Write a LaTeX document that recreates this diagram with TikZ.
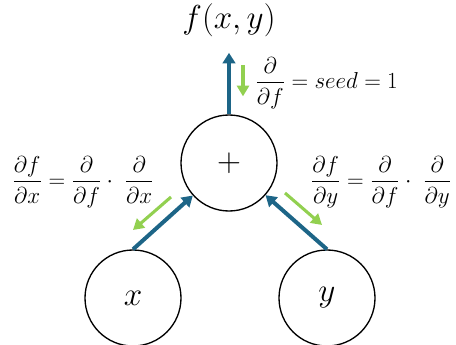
\documentclass[tikz,border=0pt]{standalone}
\usepackage{amsmath, amssymb}
\usepackage{tikz}
\usetikzlibrary{
  arrows.meta,%
  calc,%
  positioning
}
\definecolor{fwdblue}{HTML}{1D6587}
\definecolor{backgreen}{HTML}{92D050}
\tikzset{>=latex}
\tikzset{
  opnode/.style={circle, draw=black, line width=1pt, minimum size=72pt,
    inner sep=0pt, font=\fontsize{24}{28}\selectfont},
  fwdarrow/.style={draw=fwdblue, line width=3pt,
    -{Triangle[width=9.5pt,length=8pt]}},
  backarrow/.style={draw=backgreen, line width=2.3pt,
    -{Triangle[width=9pt,length=8pt]}},
  gradlabel/.style={font=\fontsize{17}{20}\selectfont, inner sep=0pt}
}

\begin{document}
\begin{tikzpicture}[x=0.75pt, y=-0.75pt]
  \useasboundingbox (0,0) rectangle (456,345);
  % graph nodes
  \node[opnode] (plus) at (229,163) {$+$};
  \node[opnode] (x) at (133,298) {$x$};
  \node[opnode] (y) at (327,298) {$y$};
  \node[font=\fontsize{25}{30}\selectfont, inner sep=0pt] (fxy) at (229,20) {$f(x,y)$};
  % forward pass
  \draw[fwdarrow] (plus.north) -- ([yshift=-12pt]fxy.south);
  \draw[fwdarrow] (x.north) -- (plus);
  \draw[fwdarrow] (y.north) -- (plus);
  % backward pass
  \draw[backarrow] ([shift={(14,-49)}]plus.north) -- ++(0,31);
  \draw[backarrow] ([shift={(-58,34)}]plus.center) -- ++(-38,33);
  \draw[backarrow] ([shift={(56,30)}]plus.center) -- ++(37,32);
  % gradients
  \node[gradlabel, anchor=west] (seed) at (255,83)
    {$\dfrac{\partial}{\partial f} = seed = 1$};
  \node[gradlabel] (dfdx) at (83,182)
    {$\dfrac{\partial f}{\partial x} = \dfrac{\partial}{\partial f}\cdot\;\dfrac{\partial}{\partial x}$};
  \node[gradlabel] (dfdy) at (381,182)
    {$\dfrac{\partial f}{\partial y} = \dfrac{\partial}{\partial f}\cdot\;\dfrac{\partial}{\partial y}$};
\end{tikzpicture}
\end{document}
